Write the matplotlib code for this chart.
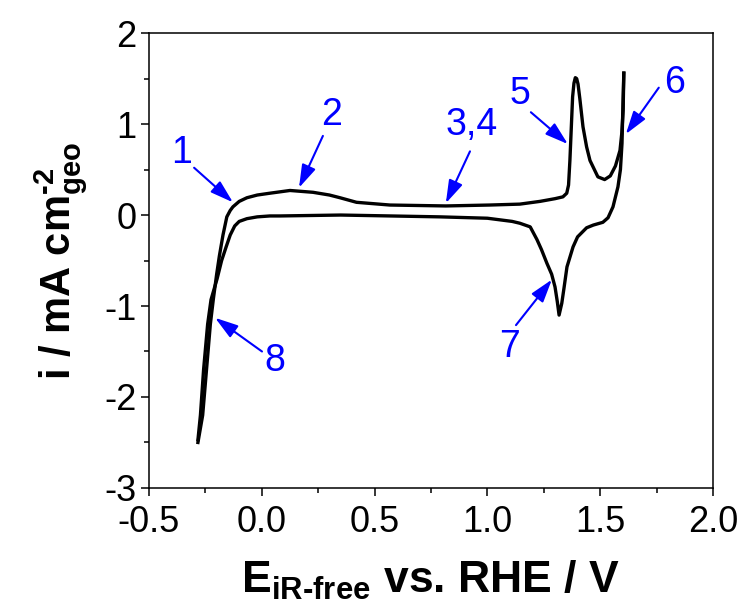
import matplotlib
matplotlib.use("Agg")
import matplotlib.pyplot as plt
from matplotlib.ticker import MultipleLocator

# anodic sweep (E / V vs RHE, i / mA cm-2)
E_fwd = [-0.283, -0.262, -0.245, -0.228, -0.215, -0.200, -0.188, -0.172, -0.155,
         -0.140, -0.128, -0.100, -0.066, -0.020, 0.036, 0.125, 0.227, 0.300, 0.347,
         0.420, 0.568, 0.816, 1.010, 1.144, 1.233, 1.300, 1.335, 1.352, 1.360,
         1.366, 1.372, 1.378, 1.384, 1.390, 1.396, 1.402, 1.410, 1.424, 1.440,
         1.455, 1.490, 1.520, 1.545, 1.568, 1.588, 1.596, 1.602, 1.605]
i_fwd = [-2.50, -2.20, -1.70, -1.20, -0.93, -0.65, -0.45, -0.22, -0.02,
         0.05, 0.09, 0.15, 0.19, 0.22, 0.24, 0.27, 0.25, 0.22, 0.19,
         0.14, 0.11, 0.10, 0.11, 0.12, 0.15, 0.18, 0.20, 0.24, 0.33,
         0.60, 0.95, 1.30, 1.45, 1.51, 1.50, 1.44, 1.28, 0.97, 0.75,
         0.60, 0.42, 0.39, 0.43, 0.54, 0.71, 0.90, 1.15, 1.56]

# cathodic sweep
E_rev = [1.605, 1.600, 1.597, 1.590, 1.579, 1.557, 1.535, 1.512, 1.470, 1.440,
         1.400, 1.380, 1.353, 1.340, 1.330, 1.318, 1.310, 1.300, 1.285, 1.264,
         1.240, 1.220, 1.190, 1.144, 1.110, 1.000, 0.790, 0.570, 0.350, 0.080,
         0.036, -0.020, -0.066, -0.100, -0.120, -0.140, -0.158, -0.178, -0.198,
         -0.225, -0.240, -0.258, -0.272, -0.283]
i_rev = [1.56, 1.10, 0.79, 0.50, 0.31, 0.09, -0.03, -0.08, -0.11, -0.14,
         -0.24, -0.35, -0.57, -0.80, -0.97, -1.10, -0.95, -0.79, -0.65, -0.53,
         -0.38, -0.27, -0.13, -0.09, -0.07, -0.035, -0.02, -0.01, 0.00, -0.01,
         -0.01, -0.02, -0.04, -0.07, -0.12, -0.22, -0.35, -0.50, -0.70,
         -0.93, -1.20, -1.70, -2.20, -2.47]

# numbered features: label, text (E, i), arrow tail (E, i), arrow head (E, i)
labels = ["1", "2", "3,4", "5", "6", "7", "8"]
label_xy = [(-0.354, 0.68), (0.311, 1.10), (0.932, 0.99), (1.144, 1.33),
            (1.832, 1.45), (1.100, -1.45), (0.059, -1.60)]
tail_xy = [(-0.300, 0.52), (0.271, 0.87), (0.923, 0.70), (1.193, 1.13),
           (1.760, 1.40), (1.127, -1.21), (0.001, -1.50)]
head_xy = [(-0.128, 0.14), (0.165, 0.30), (0.816, 0.13), (1.357, 0.78),
           (1.614, 0.89), (1.286, -0.71), (-0.207, -1.13)]

plt.rcParams['font.family'] = ['Liberation Sans', 'DejaVu Sans']
plt.rcParams['mathtext.fontset'] = 'custom'
plt.rcParams['mathtext.rm'] = 'Liberation Sans:bold'
plt.rcParams['mathtext.it'] = 'Liberation Sans:bold'
plt.rcParams['mathtext.bf'] = 'Liberation Sans:bold'

fig = plt.figure(figsize=(7.42, 6.13), dpi=100)
ax = fig.add_axes([0.2008, 0.204, 0.7600, 0.742])

ax.plot(E_fwd, i_fwd, color='black', lw=2.4, solid_joinstyle='round')
ax.plot(E_rev, i_rev, color='black', lw=2.4, solid_joinstyle='round')

for lab, txy, a, b in zip(labels, label_xy, tail_xy, head_xy):
    ax.text(txy[0], txy[1], lab, color='blue', fontsize=27,
            ha='center', va='center')
    ax.annotate('', xy=b, xytext=a,
                arrowprops=dict(arrowstyle='-|>,head_length=0.7,head_width=0.22',
                                color='blue', lw=1.5, mutation_scale=20,
                                shrinkA=0, shrinkB=0))

ax.set_xlim(-0.5, 2.0)
ax.set_ylim(-3, 2)
ax.xaxis.set_major_locator(MultipleLocator(0.5))
ax.xaxis.set_minor_locator(MultipleLocator(0.25))
ax.yaxis.set_major_locator(MultipleLocator(1))
ax.yaxis.set_minor_locator(MultipleLocator(0.5))
ax.xaxis.set_major_formatter(plt.FuncFormatter(lambda v, p: f"{v:.1f}"))
ax.yaxis.set_major_formatter(plt.FuncFormatter(lambda v, p: f"{v:.0f}"))

for s in ax.spines.values():
    s.set_linewidth(1.1)
ax.tick_params(which='both', direction='out', width=1.1, labelsize=26,
               top=False, right=False)
ax.tick_params(which='major', length=6)
ax.tick_params(which='minor', length=3.6)
ax.tick_params(axis='x', which='major', pad=6)
ax.tick_params(axis='y', which='major', pad=3)

ax.set_xlabel(r'E$_{iR\text{-}free}$ vs. RHE / V', fontsize=32,
              fontweight='bold', labelpad=14)
ax.set_ylabel(r'i / mA cm$^{\text{-}2}_{geo}$', fontsize=30,
              fontweight='bold', labelpad=10)

fig.savefig('out.png', dpi=100)
